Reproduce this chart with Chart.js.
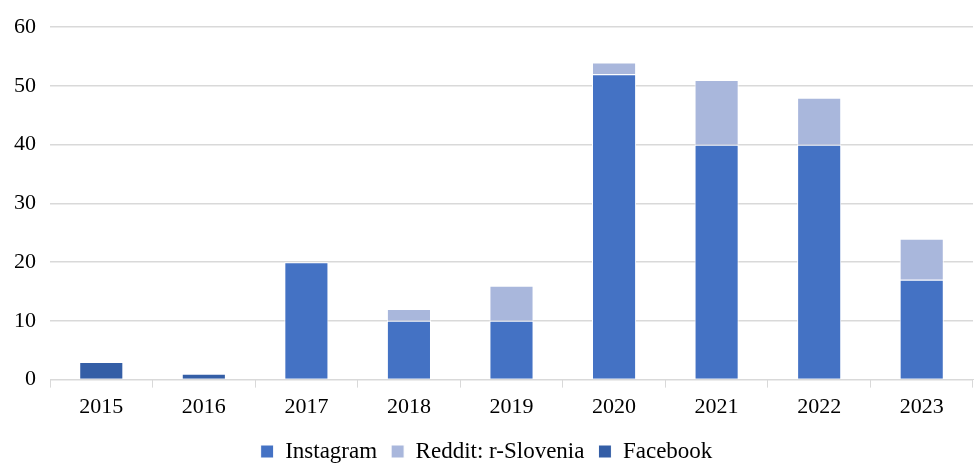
<!DOCTYPE html>
<html>
<head>
<meta charset="utf-8">
<script src="https://cdn.jsdelivr.net/npm/chart.js@4"></script>
<style>
  html, body { margin: 0; padding: 0; background: #fff; }
  #wrap { width: 974px; height: 463px; }
</style>
</head>
<body>
<div id="wrap"><canvas id="chart"></canvas></div>
<script>
const years = ['2015', '2016', '2017', '2018', '2019', '2020', '2021', '2022', '2023'];
const instagram = [0, 0, 20, 10, 10, 52, 40, 40, 17];
const reddit = [0, 0, 0, 2, 6, 2, 11, 8, 7];
const facebook = [3, 1, 0, 0, 0, 0, 0, 0, 0];
const yTicks = [0, 10, 20, 30, 40, 50, 60];

const tickFont = { family: '"Liberation Serif", "Times New Roman", serif', size: 22 };
const legendFont = { family: '"Liberation Serif", "Times New Roman", serif', size: 23 };

const ctx = document.getElementById('chart').getContext('2d');

new Chart(ctx, {
  type: 'bar',
  data: {
    labels: years,
    datasets: [
      { label: 'Instagram', data: instagram, backgroundColor: '#4472C4' },
      { label: 'Reddit: r-Slovenia', data: reddit, backgroundColor: '#A9B7DC' },
      { label: 'Facebook', data: facebook, backgroundColor: '#345EA6' }
    ].map(d => Object.assign(d, {
      borderColor: '#ffffff',
      borderWidth: 1,
      categoryPercentage: 1,
      barPercentage: 0.43
    }))
  },
  options: {
    responsive: true,
    maintainAspectRatio: false,
    animation: false,
    layout: { padding: { top: 0, right: 1, left: 0, bottom: -10 } },
    plugins: {
      legend: {
        position: 'bottom',
        labels: {
          font: legendFont,
          color: '#000',
          boxWidth: 13,
          boxHeight: 13,
          padding: 14
        }
      },
      tooltip: { enabled: false }
    },
    scales: {
      x: {
        stacked: true,
        grid: {
          drawOnChartArea: false,
          color: '#d9d9d9',
          tickLength: 8,
          offset: true
        },
        border: { color: '#d9d9d9' },
        ticks: { font: tickFont, color: '#000', padding: 6 }
      },
      y: {
        stacked: true,
        min: 0,
        max: 60,
        afterBuildTicks: axis => { axis.ticks = yTicks.map(v => ({ value: v })); },
        grid: { color: '#d9d9d9', lineWidth: 1.5, drawTicks: false },
        border: { display: false },
        ticks: { font: tickFont, color: '#000', padding: 14 }
      }
    }
  }
});
</script>
</body>
</html>
